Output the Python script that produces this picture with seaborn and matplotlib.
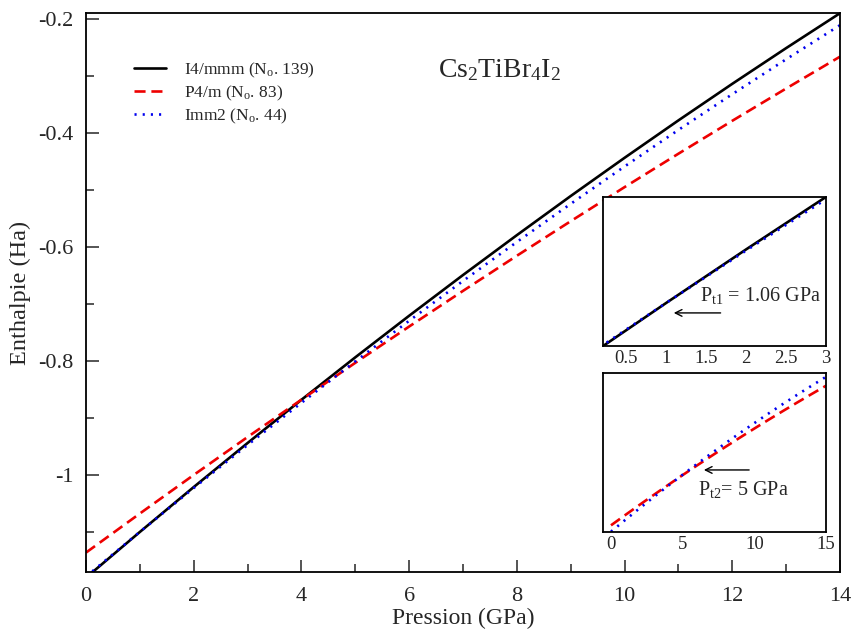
import numpy as np
import pandas as pd
import seaborn as sns
import matplotlib
matplotlib.use("Agg")
import matplotlib.pyplot as plt
from matplotlib.ticker import MultipleLocator, FuncFormatter

# ---------------- data ----------------
pressure = [0, 1, 2, 3, 4, 5, 6, 7, 8, 9, 10, 11, 12, 13, 14, 15]
h_i4mmm = [-1.180, -1.0998, -1.0211, -0.9439, -0.8681, -0.7937, -0.7208, -0.6494,
           -0.5795, -0.5109, -0.4439, -0.3783, -0.3142, -0.2516, -0.1904, -0.1308]
h_p4m = [-1.136, -1.0675, -0.9999, -0.9334, -0.8679, -0.8033, -0.7397, -0.6772,
         -0.6156, -0.5550, -0.4953, -0.4367, -0.3790, -0.3224, -0.2666, -0.2119]
h_imm2 = [-1.178, -1.0997, -1.0228, -0.9474, -0.8734, -0.8008, -0.7296, -0.6598,
          -0.5915, -0.5246, -0.4591, -0.3950, -0.3324, -0.2712, -0.2114, -0.1530]

series_labels = ["I4/mmm (N$_{\\rm o}$. 139)", "P4/m (N$_{\\rm o}$. 83)", "Imm2 (N$_{\\rm o}$. 44)"]
series_keys = ["I4/mmm", "P4/m", "Imm2"]
colors = {"I4/mmm": "black", "P4/m": "#ee0000", "Imm2": "#0000ee"}
title_text = "Cs$_2$TiBr$_4$I$_2$"
xlabel = "Pression (GPa)"
ylabel = "Enthalpie (Ha)"
annot1 = "P$_{\\rm t1}$ = 1.06 GPa"
annot2 = "P$_{\\rm t2}$= 5 GPa"

df = pd.DataFrame({
    "P": pressure * 3,
    "H": h_i4mmm + h_p4m + h_imm2,
    "phase": ["I4/mmm"] * len(pressure) + ["P4/m"] * len(pressure) + ["Imm2"] * len(pressure),
})

sns.set_theme(style="white")
plt.rcParams["font.family"] = ["Liberation Serif", "DejaVu Serif"]
plt.rcParams["mathtext.fontset"] = "custom"
plt.rcParams["mathtext.rm"] = "Liberation Serif"
plt.rcParams["mathtext.it"] = "Liberation Serif:italic"
plt.rcParams["mathtext.bf"] = "Liberation Serif:bold"

styles = {
    "I4/mmm": dict(lw=1.9, ls="-"),
    "P4/m": dict(lw=1.9, dashes=(4.2, 2.2)),
    "Imm2": dict(lw=1.9, dashes=(0.8, 2.3)),
}


def draw(ax, sub, keys):
    for key in keys:
        d = sub[sub["phase"] == key]
        sns.lineplot(data=d, x="P", y="H", ax=ax, color=colors[key],
                     legend=False, sort=True, estimator=None, **styles[key])


def frame(ax):
    for s in ax.spines.values():
        s.set_visible(True)
        s.set_color("black")
        s.set_linewidth(1.3)


gfmt = FuncFormatter(lambda v, p: "%g" % round(v, 3))

fig = plt.figure(figsize=(8.56, 6.30), dpi=100)

# ---------------- main axes ----------------
ax = fig.add_axes([0.1005, 0.0921, 0.8808, 0.8873])
draw(ax, df[df["P"] <= 14], series_keys)
ax.set_xlim(0, 14)
ax.set_ylim(-1.17, -0.19)
ax.xaxis.set_major_locator(MultipleLocator(2))
ax.xaxis.set_minor_locator(MultipleLocator(1))
ax.yaxis.set_major_locator(MultipleLocator(0.2))
ax.yaxis.set_minor_locator(MultipleLocator(0.1))
ax.yaxis.set_major_formatter(gfmt)
ax.xaxis.set_major_formatter(gfmt)
ax.tick_params(axis="both", which="major", direction="in", length=9, width=1.1,
               labelsize=16, bottom=True, left=True, top=False, right=False)
ax.tick_params(axis="x", which="major", pad=11)
ax.tick_params(axis="y", which="major", pad=9)
ax.tick_params(axis="both", which="minor", direction="in", length=5.5, width=1.1,
               bottom=True, left=True, top=False, right=False)
ax.set_xlabel(xlabel, fontsize=17, labelpad=1)
ax.set_ylabel(ylabel, fontsize=17.5, labelpad=5)
frame(ax)

handles = [ax.lines[i] for i in range(3)]
leg = ax.legend(handles, series_labels, loc="upper left", bbox_to_anchor=(0.054, 0.927),
                frameon=False, fontsize=12.5, handlelength=1.85, handletextpad=1.05,
                labelspacing=0.22, borderaxespad=0.0)
ax.text(0.548, 0.898, title_text, transform=ax.transAxes, fontsize=20,
        ha="center", va="center")

# ---------------- inset 1 ----------------
ax1 = fig.add_axes([0.7044, 0.4508, 0.2605, 0.2365])
draw(ax1, df[df["P"] <= 4], ["I4/mmm", "Imm2"])
ax1.set_xlim(0.21, 3)
ax1.set_ylim(-1.163, -0.944)
ax1.xaxis.set_major_locator(MultipleLocator(0.5))
ax1.xaxis.set_minor_locator(MultipleLocator(0.1))
ax1.xaxis.set_major_formatter(gfmt)
ax1.set_yticks([])
ax1.tick_params(axis="x", which="major", direction="in", length=8.5, width=1.0,
                labelsize=13.5, pad=3)
ax1.tick_params(axis="x", which="minor", direction="in", length=5, width=1.0)
ax1.set_xlabel("")
ax1.set_ylabel("")
frame(ax1)
ax1.annotate("", xy=(0.305, 0.222), xytext=(0.54, 0.222), xycoords="axes fraction",
             arrowprops=dict(arrowstyle="->", color="black", lw=1.0))
ax1.text(0.435, 0.34, annot1, transform=ax1.transAxes, fontsize=14.5,
         ha="left", va="center")

# ---------------- inset 2 ----------------
ax2 = fig.add_axes([0.7044, 0.1556, 0.2605, 0.2524])
draw(ax2, df, ["P4/m", "Imm2"])
ax2.set_xlim(-0.56, 15)
ax2.set_ylim(-1.18, -0.127)
ax2.xaxis.set_major_locator(MultipleLocator(5))
ax2.xaxis.set_minor_locator(MultipleLocator(2.5))
ax2.xaxis.set_major_formatter(gfmt)
ax2.set_yticks([])
ax2.tick_params(axis="x", which="major", direction="in", length=11, width=1.0,
                labelsize=13.5, pad=3)
ax2.tick_params(axis="x", which="minor", direction="in", length=6, width=1.0)
ax2.set_xlabel("")
ax2.set_ylabel("")
frame(ax2)
ax2.annotate("", xy=(0.44, 0.39), xytext=(0.668, 0.39), xycoords="axes fraction",
             arrowprops=dict(arrowstyle="->", color="black", lw=1.0))
ax2.text(0.426, 0.268, annot2, transform=ax2.transAxes, fontsize=14.5,
         ha="left", va="center")

fig.savefig("out.png", dpi=100)
